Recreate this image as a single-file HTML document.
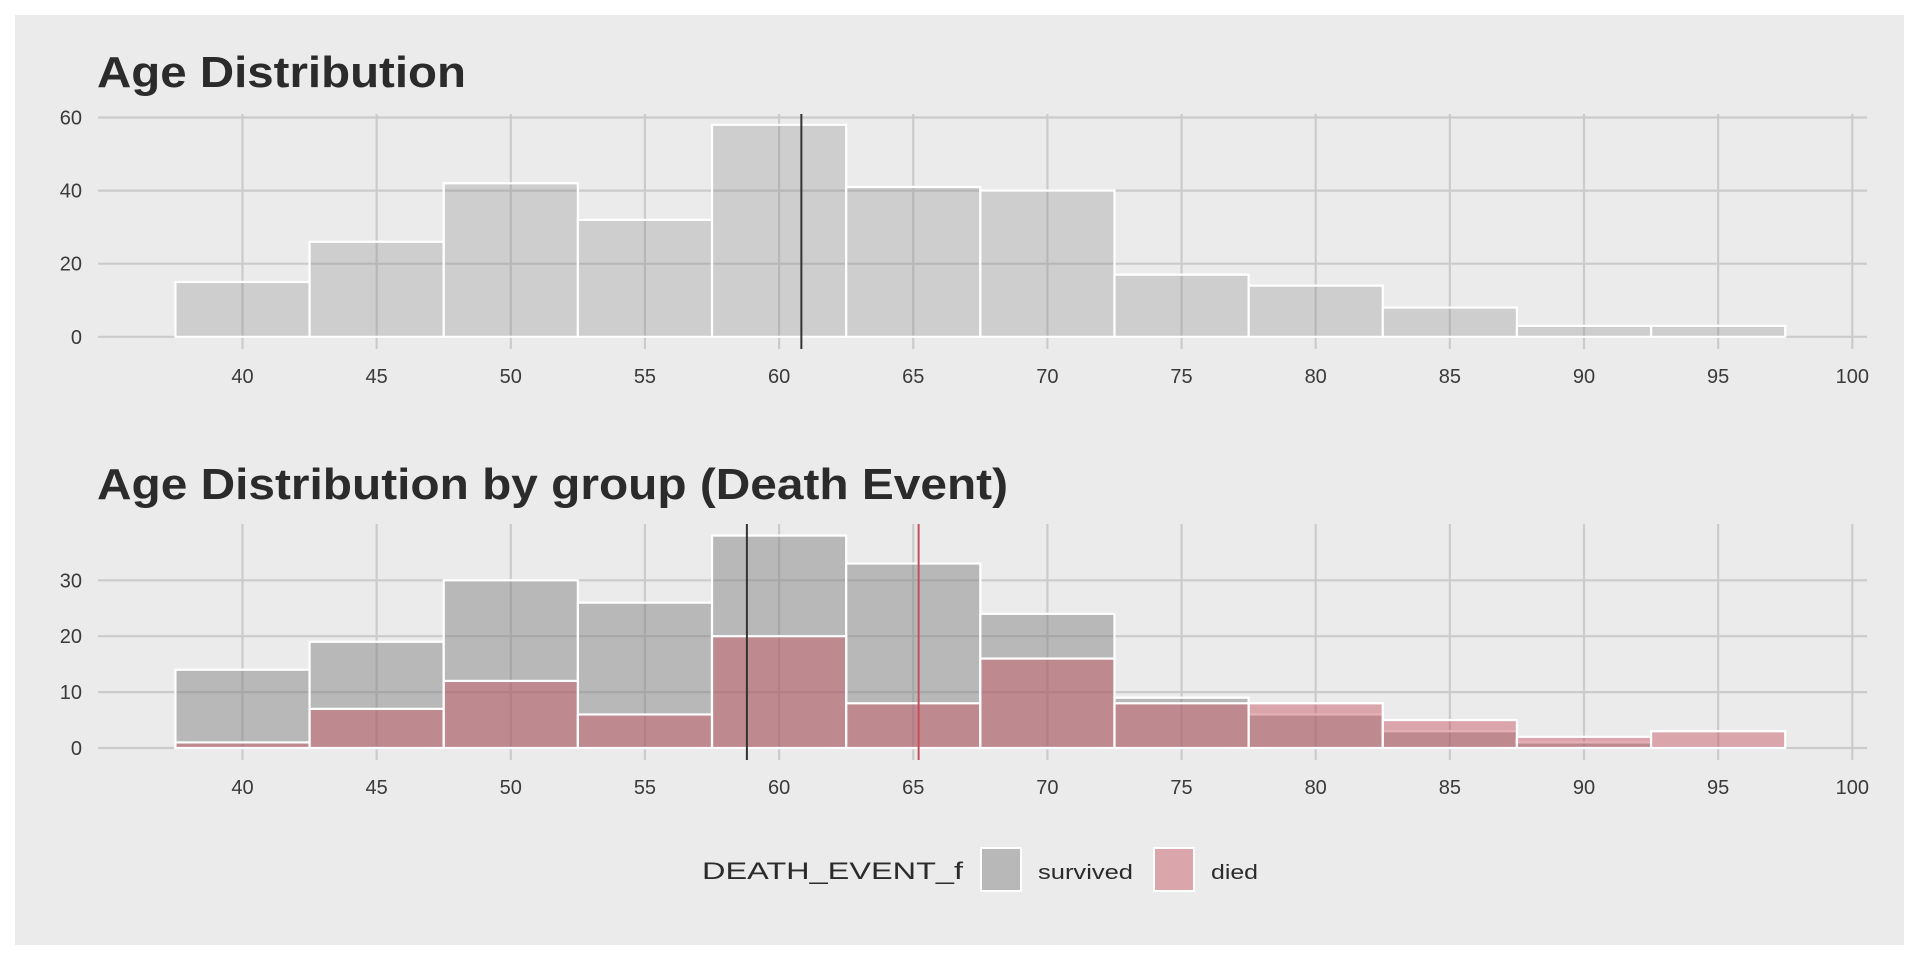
<!DOCTYPE html>
<html><head><meta charset="utf-8"><style>
html,body{margin:0;padding:0;background:#fff;}
svg{display:block;font-family:"Liberation Sans",Arial,sans-serif;}
</style></head><body>
<svg id="chart" width="1920" height="960" viewBox="0 0 1920 960" xmlns="http://www.w3.org/2000/svg">
<rect x="15" y="15" width="1889" height="930" fill="#ebebeb"/>
<text x="97" y="87" font-size="44" font-weight="bold" fill="#2b2b2b" textLength="369" lengthAdjust="spacingAndGlyphs">Age Distribution</text>
<text x="97" y="499" font-size="44" font-weight="bold" fill="#2b2b2b" textLength="911" lengthAdjust="spacingAndGlyphs">Age Distribution by group (Death Event)</text>
<g id="top"></g>
<g id="bot"></g>
<g>
<text x="702" y="879" font-size="24" fill="#2b2b2b" textLength="261" lengthAdjust="spacingAndGlyphs">DEATH_EVENT_f</text>
<rect x="981" y="848" width="40" height="43" fill="#b8b8b8" stroke="#fff" stroke-width="2"/>
<text x="1038" y="879" font-size="20" fill="#2b2b2b" textLength="95" lengthAdjust="spacingAndGlyphs">survived</text>
<rect x="1154" y="848" width="40" height="43" fill="#dba5ac" stroke="#fff" stroke-width="2"/>
<text x="1211" y="879" font-size="20" fill="#2b2b2b" textLength="47" lengthAdjust="spacingAndGlyphs">died</text>
</g>
</svg>
<script>
const binCenters = [40,45,50,55,60,65,70,75,80,85,90,95];
const allCounts = [15,26,42,32,58,41,40,17,14,8,3,3];
const survivedCounts = [14,19,30,26,38,33,24,9,6,3,1,0];
const diedCounts = [1,7,12,6,20,8,16,8,8,5,2,3];
const xTicks = [40,45,50,55,60,65,70,75,80,85,90,95,100];
const topYTicks = [0,20,40,60];
const botYTicks = [0,10,20,30];
const meanAll = 60.83;
const meanSurvived = 58.8;
const meanDied = 65.2;
const binWidth = 5;

const NS = "http://www.w3.org/2000/svg";
const xs = v => 242.5 + (v - 40) * 26.83;
function mk(parent, tag, attrs){ const e=document.createElementNS(NS,tag); for(const k in attrs) e.setAttribute(k,attrs[k]); parent.appendChild(e); return e; }

function panel(g, ys, yTicks, top, bottom, labelY, tickPrefix){
  const L=98, R=1867;
  yTicks.forEach(t=>{
    const l=mk(g,'line',{x1:L,x2:R,y1:ys(t),y2:ys(t),stroke:'#cbcbcb','stroke-width':2.2});
    
    
    const tx=mk(g,'text',{x:82,y:ys(t)+7,'text-anchor':'end','font-size':20,fill:'#3a3a3a'});
    tx.textContent=t;
    
    
  });
  xTicks.forEach(t=>{
    const l=mk(g,'line',{x1:xs(t),x2:xs(t),y1:top,y2:bottom,stroke:'#cbcbcb','stroke-width':2.2});
    
    
    const tx=mk(g,'text',{x:xs(t),y:labelY,'text-anchor':'middle','font-size':20,fill:'#3a3a3a'});
    tx.textContent=t;
    
    
  });
}
function bars(g, ys, vals, fill, name){
  vals.forEach((v,i)=>{
    if(v<=0) return;
    const x0=xs(binCenters[i]-binWidth/2), x1=xs(binCenters[i]+binWidth/2);
    const r=mk(g,'rect',{x:x0,y:ys(v),width:x1-x0,height:ys(0)-ys(v),fill:fill,stroke:'#fff','stroke-width':2.2});
    
    
  });
}
function vline(g, v, top, bottom, color, name){
  const l=mk(g,'line',{x1:xs(v),x2:xs(v),y1:top,y2:bottom,stroke:color,'stroke-width':2});
  
  
}

const gt=document.getElementById('top');
const yt = v => 336.8 - v * 3.655;
panel(gt, yt, topYTicks, 114, 349, 383, 'top-');
bars(gt, yt, allCounts, 'rgba(128,128,128,0.27)', 'top-bar');
vline(gt, meanAll, 114, 349, '#333333', 'top-mean-line');

const gb=document.getElementById('bot');
const yb = v => 748 - v * 5.59;
panel(gb, yb, botYTicks, 524, 760, 794, 'bottom-');
bars(gb, yb, survivedCounts, 'rgba(128,128,128,0.48)', 'survived-bar');
bars(gb, yb, diedCounts, 'rgba(200,80,95,0.45)', 'died-bar');
vline(gb, meanSurvived, 524, 760, '#333333', 'survived-mean-line');
vline(gb, meanDied, 524, 760, '#c4505e', 'died-mean-line');
</script>
</body></html>
